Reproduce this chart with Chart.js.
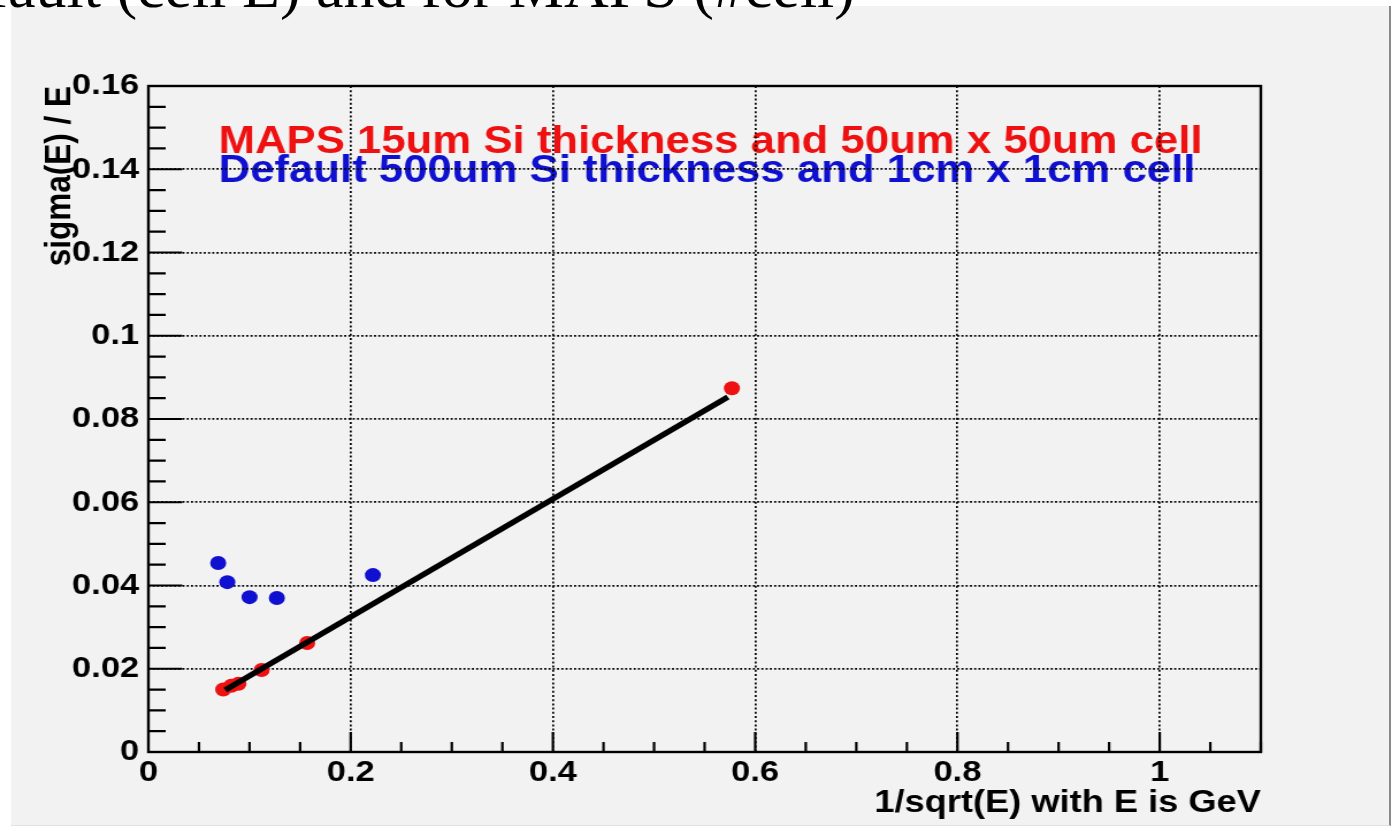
<!DOCTYPE html>
<html>
<head>
<meta charset="utf-8">
<title>sigma(E)/E vs 1/sqrt(E)</title>
<script src="https://cdn.jsdelivr.net/npm/chart.js@4.4.1/dist/chart.umd.min.js"></script>
<style>
  html, body { margin: 0; padding: 0; background: #fff; overflow: hidden; }
  body { width: 1400px; height: 831px; position: relative; }
  .pad { position: absolute; left: 11px; top: 6px; width: 1378px; height: 819px; background: #f2f2f2; border-right: 2px solid #8a8a8a; border-bottom: 1px solid #e2e2e2; }
  .heading { position: absolute; right: 545px; top: -45px; font: 62px/62px 'Liberation Serif', 'Times New Roman', serif; white-space: nowrap; color: #000; }
  /* the plot is drawn a bit narrow and widened, like the saved canvas */
  .stretch { position: absolute; left: 0; top: 0; width: 1217px; height: 831px; transform: scaleX(1.1504); transform-origin: 0 0; }
</style>
</head>
<body>
<div class="pad"></div>
<div class="heading">Default (cell E) and for MAPS (#cell)</div>
<div class="stretch"><canvas id="resoChart" width="1217" height="831" style="width:1217px;height:831px"></canvas></div>
<script>
// x = 1/sqrt(E), y = sigma(E)/E
const mapsX = [0.074, 0.082, 0.089, 0.112, 0.157, 0.577];
const mapsY = [0.0150, 0.0159, 0.0164, 0.0197, 0.0262, 0.0874];
const defaultX = [0.069, 0.078, 0.100, 0.127, 0.222];
const defaultY = [0.0454, 0.0408, 0.0372, 0.0370, 0.0425];
// straight-line fit through the MAPS points
const fitX = [0.076, 0.573];
const fitY = [0.0149, 0.0853];

const xTicks = [0, 0.2, 0.4, 0.6, 0.8, 1];
const yTicks = [0, 0.02, 0.04, 0.06, 0.08, 0.1, 0.12, 0.14, 0.16];
const legendLines = ['MAPS 15um Si thickness and 50um x 50um cell', 'Default 500um Si thickness and 1cm x 1cm cell'];
const legendColors = ['#ee1111', '#1010d0'];

const FONT = "'Liberation Sans', Arial, Helvetica, sans-serif";

const toPoints = (xs, ys) => xs.map((v, i) => ({ x: v, y: ys[i] }));

// ROOT-like frame: box, inward ticks and the text block in the top left
const rootFrame = {
  id: 'rootFrame',
  beforeDraw(chart) {
    const ctx = chart.ctx;
    ctx.save();
    ctx.font = 'bold 38px ' + FONT;
    ctx.textBaseline = 'alphabetic';
    ctx.fillStyle = legendColors[0];
    ctx.fillText(legendLines[0], 190, 152.5);
    ctx.fillStyle = legendColors[1];
    ctx.fillText(legendLines[1], 190, 181.5);
    ctx.restore();
  },
  beforeDatasetsDraw(chart) {
    const { ctx, chartArea: a, scales: { x, y } } = chart;
    ctx.save();
    ctx.strokeStyle = '#000';
    ctx.lineWidth = 2.2;
    ctx.beginPath();
    for (let i = 1; i <= 22; i++) {
      const px = x.getPixelForValue(i * 0.05);
      ctx.moveTo(px, a.bottom);
      ctx.lineTo(px, a.bottom - (i % 4 === 0 ? 20 : 10));
    }
    for (let i = 1; i < 32; i++) {
      const py = y.getPixelForValue(i * 0.005);
      ctx.moveTo(a.left, py);
      ctx.lineTo(a.left + (i % 4 === 0 ? 29.5 : 15), py);
    }
    ctx.stroke();
    ctx.lineWidth = 2.4;
    ctx.strokeRect(a.left, a.top, a.right - a.left, a.bottom - a.top);
    ctx.restore();
  }
};

const ctx = document.getElementById('resoChart').getContext('2d');

const resoChart = new Chart(ctx, {
  type: 'scatter',
  data: {
    datasets: [
      {
        label: 'fit',
        data: toPoints(fitX, fitY),
        showLine: true,
        borderColor: '#000',
        borderWidth: 5.5,
        pointRadius: 0,
        order: 0
      },
      {
        label: 'MAPS',
        data: toPoints(mapsX, mapsY),
        backgroundColor: legendColors[0],
        borderWidth: 0,
        pointRadius: 7,
        order: 1
      },
      {
        label: 'Default',
        data: toPoints(defaultX, defaultY),
        backgroundColor: legendColors[1],
        borderWidth: 0,
        pointRadius: 7,
        order: 2
      }
    ]
  },
  options: {
    responsive: false,
    animation: false,
    events: [],
    layout: { padding: { left: 0, top: 86, right: 121, bottom: 0 } },
    plugins: {
      legend: { display: false },
      tooltip: { enabled: false }
    },
    scales: {
      x: {
        type: 'linear',
        min: 0,
        max: 1.1,
        afterBuildTicks: (scale) => { scale.ticks = xTicks.map(v => ({ value: v })); },
        afterFit: (scale) => { scale.height = 79; },
        grid: { color: '#000', lineWidth: 1.7, drawTicks: false },
        border: { display: false, dash: [2, 2.2] },
        ticks: {
          autoSkip: false,
          maxRotation: 0,
          padding: 3,
          color: '#000',
          font: { family: FONT, size: 30, weight: 'bold' },
          callback: (v) => String(+v.toFixed(3))
        },
        title: {
          display: true,
          text: '1/sqrt(E) with E is GeV',
          align: 'end',
          color: '#000',
          padding: { top: 0, bottom: 9 },
          font: { family: FONT, size: 31.5, weight: 'bold' }
        }
      },
      y: {
        type: 'linear',
        min: 0,
        max: 0.16,
        afterBuildTicks: (scale) => { scale.ticks = yTicks.map(v => ({ value: v })); },
        afterFit: (scale) => { scale.width = 129; },
        grid: { color: '#000', lineWidth: 1.8, drawTicks: false },
        border: { display: false, dash: [1.8, 1.9] },
        ticks: {
          autoSkip: false,
          padding: 8,
          color: '#000',
          font: { family: FONT, size: 30, weight: 'bold' },
          callback: (v) => String(+v.toFixed(3))
        },
        title: {
          display: true,
          text: 'sigma(E) / E',
          align: 'end',
          color: '#000',
          padding: { top: 33, bottom: 0 },
          font: { family: FONT, size: 31.5, weight: 'bold' }
        }
      }
    }
  },
  plugins: [rootFrame]
});
</script>
</body>
</html>
